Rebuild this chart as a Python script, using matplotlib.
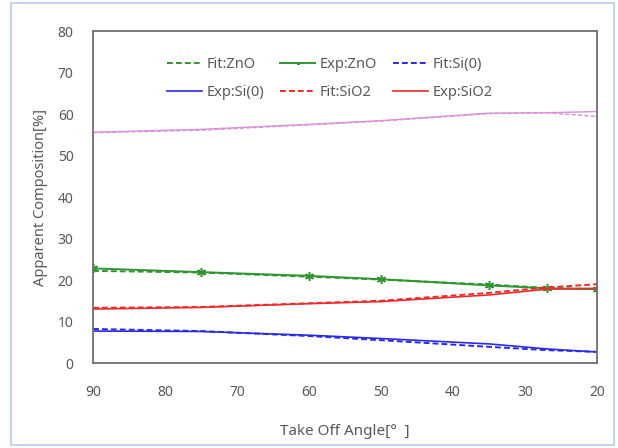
import numpy as np
import matplotlib
matplotlib.use('Agg')
import matplotlib.pyplot as plt
from matplotlib.patches import Rectangle

# Datos
angulo = [90, 75, 60, 50, 35, 27, 20]

fit_zno = [22.2, 21.8, 20.8, 20.1, 18.9, 18.1, 17.8]
exp_zno = [22.8, 21.9, 21.0, 20.2, 18.7, 18.0, 17.8]
fit_si0 = [8.2, 7.7, 6.5, 5.5, 3.9, 3.1, 2.7]
exp_si0 = [7.7, 7.6, 6.7, 5.9, 4.6, 3.4, 2.65]
fit_sio2 = [13.3, 13.5, 14.4, 15.0, 16.9, 18.2, 19.0]
exp_sio2 = [13.0, 13.4, 14.3, 14.8, 16.4, 17.8, 18.0]
fit_otro = [55.5, 56.1, 57.4, 58.3, 60.1, 60.3, 59.4]
exp_otro = [55.6, 56.3, 57.5, 58.4, 60.2, 60.3, 60.6]

gris = '#595959'
plt.rcParams['font.family'] = ['Noto Sans', 'DejaVu Sans']

fig = plt.figure(figsize=(6.18, 4.48), dpi=100)
ax = fig.add_axes([0.1505, 0.1897, 0.8155, 0.7411])

verde = '#2f962f'
azul = '#2a2ae0'
rojo = '#ee2b2b'
rosa = '#da8fda'
guiones = (3, 1.6)

l1, = ax.plot(angulo, fit_zno, color=verde, lw=1.4, ls='--', dashes=guiones, label='Fit:ZnO')
l2, = ax.plot(angulo, exp_zno, color=verde, lw=1.4, marker=(6, 2, 0), ms=6.5, mew=1.1, label='Exp:ZnO')
l3, = ax.plot(angulo, fit_si0, color=azul, lw=1.4, ls='--', dashes=guiones, label='Fit:Si(0)')
l4, = ax.plot(angulo, exp_si0, color=azul, lw=1.2, label='Exp:Si(0)')
l5, = ax.plot(angulo, fit_sio2, color=rojo, lw=1.4, ls='--', dashes=guiones, label='Fit:SiO2')
l6, = ax.plot(angulo, exp_sio2, color=rojo, lw=1.2, label='Exp:SiO2')
ax.plot(angulo, fit_otro, color=rosa, lw=1.0, ls='--', dashes=guiones)
ax.plot(angulo, exp_otro, color=rosa, lw=1.0)

ax.set_xlim(90, 20)
ax.set_ylim(0, 80)
ax.set_xticks(np.arange(90, 19, -10))
ax.set_yticks(np.arange(0, 81, 10))
ax.tick_params(length=0, labelsize=10, labelcolor=gris)
ax.tick_params(axis='x', pad=16)
ax.tick_params(axis='y', pad=14)
for s in ax.spines.values():
    s.set_color('#707070')
    s.set_linewidth(1.3)

ax.set_xlabel('Take Off Angle[°\u2002]', fontsize=11, color=gris, labelpad=17)
ax.set_ylabel('Apparent Composition[%]', fontsize=10.5, color=gris, labelpad=7)

# orden por filas
handles = [l1, l4, l2, l5, l3, l6]
leg = ax.legend(handles=handles, labels=[h.get_label() for h in handles], ncol=3,
                loc='upper center', bbox_to_anchor=(0.47, 0.96), frameon=False,
                fontsize=10.5, handlelength=2.4, handletextpad=0.3, columnspacing=1.1,
                labelspacing=0.85, markerscale=0.3)
for t in leg.get_texts():
    t.set_color(gris)

fig.patches.append(Rectangle((11 / 618, 3 / 448), 603 / 618, 442 / 448,
                             transform=fig.transFigure, fill=False,
                             edgecolor='#b7cde6', lw=1.2))

fig.savefig('out.png', dpi=100)
